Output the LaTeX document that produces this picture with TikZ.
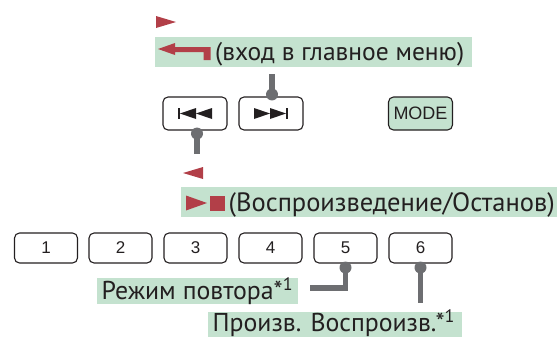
\documentclass[tikz,border=0pt]{standalone}
\usepackage{fontspec}
\setmainfont{PT Sans}
\newfontfamily\btnfont{Liberation Sans}
\definecolor{lblgreen}{HTML}{C4E2CF}
\definecolor{symred}{HTML}{B23F48}
\definecolor{congrey}{HTML}{6D6E71}
\definecolor{ink}{HTML}{231F20}
\tikzset{
  btn/.style={draw=ink, line width=1.1pt, rounded corners=5pt, minimum width=63pt, minimum height=30pt, inner sep=0pt, font=\btnfont\fontsize{17}{17}\selectfont, text=ink},
  topbtn/.style={btn, minimum width=64pt, minimum height=33pt},
  lbl/.style={fill=lblgreen, inner sep=0pt, anchor=north west, minimum height=#1},
  lbltext/.style={anchor=base west, inner sep=0pt, text=ink},
  conn/.style={draw=congrey, line width=5.5pt},
  jdot/.style={circle, fill=congrey, inner sep=0pt, minimum size=12pt},
  symred/.style={fill=symred}
}
\begin{document}
\begin{tikzpicture}[x=1pt,y=-1pt]
\useasboundingbox (0,0) rectangle (558,338);

% top buttons
\node[topbtn] (prev) at (195,113.5) {};
\node[topbtn] (next) at (271,113.5) {};
\node[topbtn, fill=lblgreen, font=\btnfont\fontsize{18}{18}\selectfont] (mode) at (420.5,113.5) {MODE};

% symbols in prev / next
\begin{scope}[shift={(prev.center)}]
  \fill[ink] (-17,-5.5) rectangle (-15,5.5);
  \fill[ink] (-15,0) -- (1,-5.5) -- (1,5.5) -- cycle;
  \fill[ink] (1,0) -- (17,-5.5) -- (17,5.5) -- cycle;
\end{scope}
\begin{scope}[shift={(next.center)}]
  \fill[ink] (-17,-5.5) -- (-1,0) -- (-17,5.5) -- cycle;
  \fill[ink] (-1,-5.5) -- (15,0) -- (-1,5.5) -- cycle;
  \fill[ink] (15,-5.5) rectangle (17,5.5);
\end{scope}

% number buttons
\node[btn] (b1) at (46,248) {1};
\node[btn] (b2) at (120.5,248) {2};
\node[btn] (b3) at (195.5,248) {3};
\node[btn] (b4) at (270.5,248) {4};
\node[btn] (b5) at (345.5,248) {5};
\node[btn] (b6) at (420.5,248) {6};

% red triangles
\fill[symred] (156,16) -- (176,22) -- (156,28) -- cycle;
\fill[symred] (203,167) -- (183,173) -- (203,179) -- cycle;

% label 1
\node[lbl=30pt, minimum width=317pt] (L1) at (155,37) {};
\fill[symred] (158,49) -- (175,43) -- (175,47) -- (210.5,47) -- (210.5,60) -- (203.5,60) -- (203.5,52) -- (175,52) -- (175,55) -- cycle;
\node[lbltext, font=\fontsize{25.5}{25.5}\selectfont] (T1) at (215,60.5) {(вход в главное меню)};

% label 2
\node[lbl=30pt, minimum width=376pt] (L2) at (181,187) {};
\fill[symred] (186,195.5) -- (207,203) -- (186,210.5) -- cycle;
\fill[symred] (210,195.5) rectangle (225,210.5);
\node[lbltext, font=\fontsize{26.5}{26.5}\selectfont] (T2) at (228.5,211) {(Воспроизведение/Останов)};

% label 3
\node[lbl=26pt, minimum width=201pt] (L3) at (97,278) {};
\node[lbltext, font=\fontsize{25.8}{25.8}\selectfont] (T3) at (101.5,299.5) {Режим повтора*\textsuperscript{1}};

% label 4
\node[lbl=25pt, minimum width=254pt] (L4) at (208,312) {};
\node[lbltext, font=\fontsize{25.8}{25.8}\selectfont] (T4) at (212.5,331.5) {Произв. Воспроизв.*\textsuperscript{1}};

% connectors
\coordinate (c1) at (272,74);
\coordinate (d1) at ([xshift=1pt,yshift=2pt]next.north);
\draw[conn] (c1) -- (d1);
\node[jdot] at (d1) {};

\coordinate (d2) at ([xshift=2pt,yshift=-3pt]prev.south);
\coordinate (c2) at ([yshift=-20pt]d2);
\draw[conn] (d2) -- (c2);
\node[jdot] at (d2) {};

\coordinate (d5) at ([yshift=-4pt]b5.south);
\coordinate (c5) at (310,288);
\draw[conn] (d5) |- (c5);
\node[jdot] at (d5) {};

\coordinate (d6) at ([yshift=-4pt]b6.south);
\coordinate (c6) at (420.5,303);
\draw[conn] (d6) -- (c6);
\node[jdot] at (d6) {};
\end{tikzpicture}
\end{document}
